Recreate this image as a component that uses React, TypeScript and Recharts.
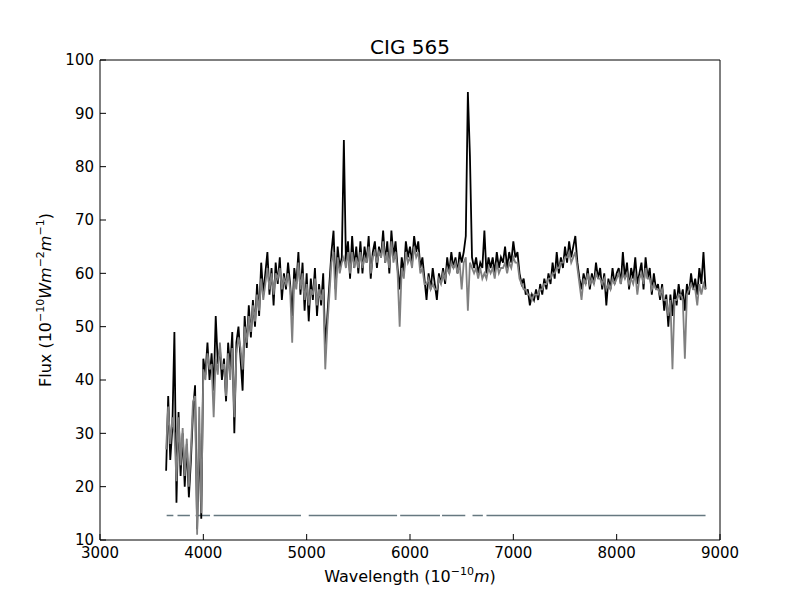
import { LineChart, Line, XAxis, YAxis } from "recharts"

// sampling of the two spectra (Angstrom)
const waveStart = 3640
const waveStep = 20

// observed spectrum, black
const blackFlux = [
  // 3640-3980
  23, 37, 25, 31, 49, 17, 34, 22, 30, 20, 28, 18, 25, 34, 39, 12, 30, 14,
  // 4000-4300
  44, 41, 47, 40, 45, 38, 52, 43, 46, 40, 44, 36, 47, 42, 49, 30,
  // 4320-4600
  47, 50, 44, 38, 52, 46, 54, 48, 55, 50, 58, 52, 62, 56, 60,
  // 4620-4880
  64, 56, 61, 54, 62, 58, 63, 55, 60, 57, 62, 58, 52, 61,
  // 4900-5200
  58, 64, 56, 62, 53, 60, 51, 59, 55, 61, 52, 58, 54, 60, 46, 52,
  // 5220-5500
  58, 64, 68, 57, 65, 61, 63, 85, 62, 66, 59, 67, 61, 65, 60,
  // 5520-5880
  66, 60, 65, 62, 67, 59, 64, 66, 61, 65, 63, 68, 62, 66, 60, 68, 63, 66, 61,
  // 5900-6300
  57, 63, 60, 66, 63, 65, 62, 67, 64, 66, 61, 63, 59, 55, 60, 57, 61, 58, 55, 60, 58,
  // 6320-6540
  61, 58, 63, 60, 64, 61, 63, 60, 64, 62, 64, 67,
  // 6560-6780
  94, 82, 63, 61, 63, 60, 62, 61, 68, 60, 63, 61,
  // 6800-7200
  63, 60, 64, 61, 63, 62, 65, 61, 64, 62, 66, 63, 64, 60, 58, 59, 56, 57, 54, 56, 55,
  // 7220-7600
  57, 55, 58, 56, 59, 57, 60, 58, 62, 59, 64, 60, 63, 61, 65, 62, 66, 63, 65, 67,
  // 7620-8000
  62, 59, 57, 60, 58, 61, 57, 60, 58, 62, 59, 61, 57, 60, 54, 59, 57, 61, 58, 60,
  // 8020-8400
  61, 58, 64, 59, 62, 57, 61, 59, 63, 58, 60, 62, 57, 63, 59, 61, 56, 60, 57, 58,
  // 8420-8860
  55, 58, 53, 56, 50, 56, 52, 57, 54, 58, 55, 57, 53, 58, 56, 60, 57, 59, 56, 61, 58, 64, 57,
]

// fitted model, gray
const grayFlux = [
  // 3640-3980
  27, 35, 28, 33, 30, 21, 33, 24, 31, 22, 29, 20, 27, 36, 37, 11, 35, 15,
  // 4000-4300
  42, 40, 45, 42, 43, 33, 44, 41, 47, 42, 43, 37, 45, 40, 46, 33,
  // 4320-4600
  45, 48, 46, 42, 50, 47, 52, 49, 54, 51, 56, 53, 59, 55, 58,
  // 4620-4880
  61, 57, 60, 56, 60, 59, 61, 57, 59, 58, 60, 57, 47, 59,
  // 4900-5200
  57, 62, 57, 60, 55, 58, 54, 57, 56, 59, 54, 57, 55, 57, 42, 50,
  // 5220-5500
  56, 62, 64, 55, 63, 60, 62, 63, 61, 64, 60, 64, 61, 63, 61,
  // 5520-5880
  64, 61, 63, 62, 65, 60, 63, 64, 62, 64, 63, 66, 62, 64, 61, 66, 62, 64, 60,
  // 5900-6300
  50, 61, 59, 64, 62, 63, 61, 65, 63, 64, 60, 61, 58, 58, 59, 57, 58, 57, 57, 59, 58,
  // 6320-6540
  60, 59, 61, 60, 62, 61, 62, 60, 62, 57, 62, 63,
  // 6560-6780
  53, 62, 61, 60, 61, 59, 61, 59, 60, 59, 61, 60,
  // 6800-7200
  61, 59, 62, 60, 61, 61, 62, 60, 62, 61, 63, 62, 62, 59, 58, 57, 57, 56, 56, 55, 56,
  // 7220-7600
  56, 56, 57, 57, 58, 58, 59, 59, 60, 60, 61, 61, 62, 62, 63, 63, 64, 62, 63, 64,
  // 7620-8000
  61, 58, 55, 59, 58, 60, 58, 59, 58, 60, 59, 59, 58, 59, 57, 58, 57, 59, 58, 59,
  // 8020-8400
  60, 58, 60, 59, 60, 58, 59, 58, 60, 56, 59, 60, 58, 61, 59, 59, 57, 58, 57, 57,
  // 8420-8860
  56, 57, 55, 55, 52, 55, 42, 55, 55, 56, 56, 55, 44, 56, 57, 58, 57, 57, 54, 58, 56, 58, 57,
]

// masked-region bar near the bottom
const maskLevel = 14.6
const maskSegments = [
  [3645, 3710],
  [3750, 3870],
  [3925, 4065],
  [4100, 4945],
  [5020, 5875],
  [5905, 6290],
  [6310, 6535],
  [6605, 6705],
  [6740, 8860],
]

const xTicks = [3000, 4000, 5000, 6000, 7000, 8000, 9000]
const yTicks = [10, 20, 30, 40, 50, 60, 70, 80, 90, 100]

const spectrum = blackFlux.map((b, i) => ({
  wave: waveStart + i * waveStep,
  black: b,
  gray: grayFlux[i],
}))

const mask = maskSegments.flatMap(([a, b]) => [
  { wave: a, mask: maskLevel },
  { wave: b, mask: maskLevel },
  { wave: b + 1, mask: null },
])

const font = "DejaVu Sans, Verdana, sans-serif"
const tickStyle = { fill: "#000", fontSize: 15, fontFamily: font }
const axisLine = { stroke: "#000", strokeWidth: 1 }

const App = () => {
  return (
    <div style={{ position: "absolute", left: 0, top: 0, width: 800, height: 600, background: "#fff" }}>
      <LineChart width={800} height={600} margin={{ top: 59, right: 79, bottom: 0, left: 0 }}>
        <XAxis
          dataKey="wave"
          type="number"
          domain={[3000, 9000]}
          ticks={xTicks}
          interval={0}
          allowDataOverflow
          height={60}
          tick={tickStyle}
          tickSize={-6}
          tickMargin={13}
          axisLine={axisLine}
          tickLine={axisLine}
        />
        <XAxis
          xAxisId="top"
          orientation="top"
          dataKey="wave"
          type="number"
          domain={[3000, 9000]}
          ticks={xTicks}
          interval={0}
          height={1}
          tick={false}
          tickSize={-6}
          axisLine={axisLine}
          tickLine={axisLine}
        />
        <YAxis
          type="number"
          domain={[10, 100]}
          ticks={yTicks}
          interval={0}
          allowDataOverflow
          width={100}
          tick={tickStyle}
          tickSize={-6}
          tickMargin={12}
          axisLine={axisLine}
          tickLine={axisLine}
        />
        <YAxis
          yAxisId="right"
          orientation="right"
          type="number"
          domain={[10, 100]}
          ticks={yTicks}
          interval={0}
          width={1}
          tick={false}
          tickSize={-6}
          axisLine={axisLine}
          tickLine={axisLine}
        />
        <Line
          data={mask}
          dataKey="mask"
          stroke="#667880"
          strokeWidth={1.6}
          dot={false}
          activeDot={false}
          connectNulls={false}
          isAnimationActive={false}
        />
        <Line
          data={spectrum}
          dataKey="black"
          stroke="#000000"
          strokeWidth={1.8}
          dot={false}
          activeDot={false}
          isAnimationActive={false}
        />
        <Line
          data={spectrum}
          dataKey="gray"
          stroke="#808080"
          strokeWidth={1.8}
          dot={false}
          activeDot={false}
          isAnimationActive={false}
        />
      </LineChart>
      <svg
        width={800}
        height={600}
        style={{ position: "absolute", left: 0, top: 0, pointerEvents: "none" }}
        fontFamily={font}
      >
        <text x={410} y={54} textAnchor="middle" fontSize={20}>
          CIG 565
        </text>
        <text x={410} y={582} textAnchor="middle" fontSize={16}>
          Wavelength (10
          <tspan dy={-7} fontSize={11}>−10</tspan>
          <tspan dy={7} fontStyle="italic">m</tspan>)
        </text>
        <text x={51} y={300} textAnchor="middle" fontSize={16} transform="rotate(-90 51 300)">
          Flux (10
          <tspan dy={-7} fontSize={11}>−10</tspan>
          <tspan dy={7} fontStyle="italic">Wm</tspan>
          <tspan dy={-7} fontSize={11}>−2</tspan>
          <tspan dy={7} fontStyle="italic">m</tspan>
          <tspan dy={-7} fontSize={11}>−1</tspan>
          <tspan dy={7}>)</tspan>
        </text>
      </svg>
    </div>
  )
}

export default App
